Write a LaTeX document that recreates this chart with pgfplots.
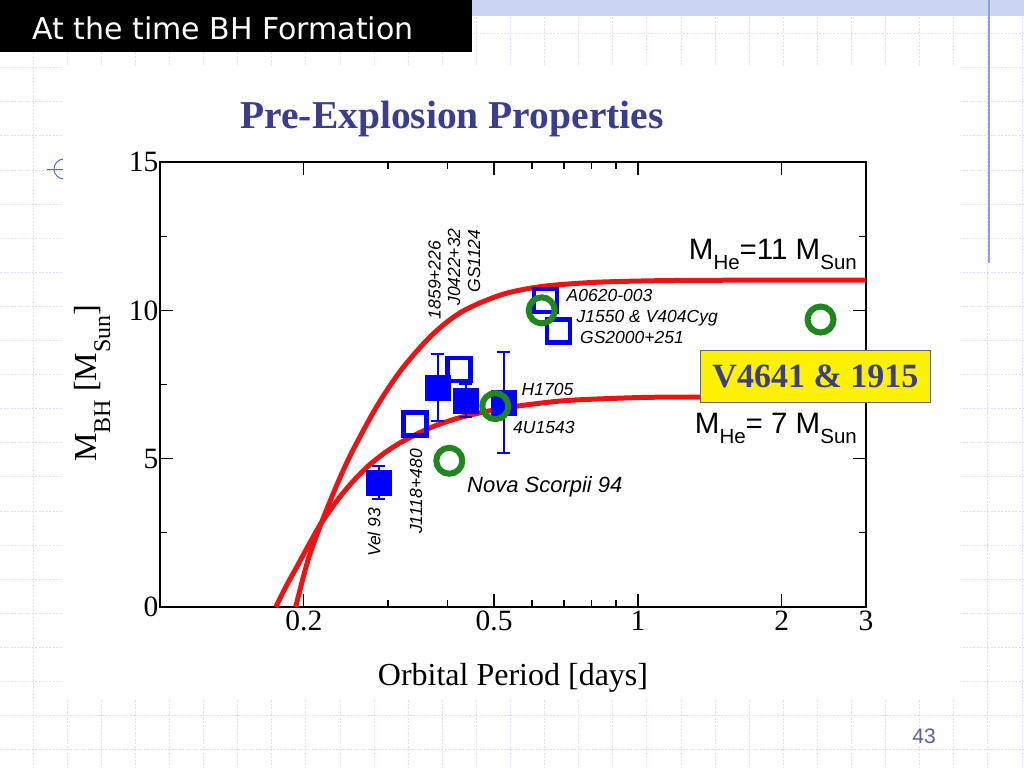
\documentclass[border=0pt]{standalone}
\usepackage{fontspec}
\setmainfont{Liberation Serif}
\newfontfamily\hv{Liberation Sans}
\newfontfamily\tah{DejaVu Sans}
\usepackage{pgfplots}
\pgfplotsset{compat=1.18}

\definecolor{slideblue}{RGB}{58,62,140}
\definecolor{gridcol}{RGB}{220,224,244}
\definecolor{bandcol}{RGB}{202,214,242}
\definecolor{edgeblue}{RGB}{140,160,225}
\definecolor{markblue}{RGB}{90,105,200}
\definecolor{ringgreen}{RGB}{30,135,30}
\definecolor{curvered}{RGB}{235,20,20}
\definecolor{pagegray}{RGB}{90,95,150}

% subscripts used in the labels (they sit well below the baseline)
\newcommand{\hsub}[1]{\raisebox{-10.5pt}{\fontsize{20.5}{20.5}\selectfont #1}}
\newcommand{\tsub}[1]{\raisebox{-14pt}{\fontsize{24}{24}\selectfont #1}}

\begin{document}
\begin{tikzpicture}
\begin{scope}[x=1pt,y=-1pt]
\path[use as bounding box] (0,0) rectangle (1024,768);

% slide background
\foreach \k in {0,...,29}
  \draw[gridcol, line width=0.8pt, dash pattern=on 2pt off 1.5pt] ({33+34.1*\k},0) -- ({33+34.1*\k},768);
\foreach \k in {0,...,22}
  \draw[gridcol, line width=0.8pt, dash pattern=on 2pt off 1.5pt] (0,{33.5+34.1*\k}) -- (1024,{33.5+34.1*\k});
\draw[markblue, line width=1pt] (64,169) circle[radius=10pt];
\draw[markblue, line width=1pt] (47,169) -- (64,169);
\fill[white] (63,65) rectangle (960,700);
\fill[bandcol] (472,0) rectangle (1024,16);
\draw[edgeblue, line width=1.5pt] (989,0) -- (989,263);
\fill[black] (0,0) rectangle (472,52);
\node[anchor=base west, inner sep=0, text=white, font=\tah\fontsize{30}{30}\selectfont] at (32,40) {At the time BH Formation};
\node[anchor=base, inner sep=0, text=slideblue, font=\bfseries\fontsize{39.5}{39.5}\selectfont] at (452,128) {Pre-Explosion Properties};
\node[anchor=base, inner sep=0, text=pagegray, font=\hv\fontsize{21}{21}\selectfont] at (924,743) {43};
\end{scope}

\begin{axis}[
    at={(160pt,-607pt)}, anchor=south west,
    scale only axis, width=706pt, height=445pt,
    xmode=log, xmin=0.1, xmax=3,
    ymin=0, ymax=15,
    xtick={0.2,0.5,1,2,3}, xticklabels={0.2,0.5,1,2,3},
    minor xtick={0.3,0.4,0.6,0.7,0.8,0.9},
    ytick={0,5,10,15}, yticklabels={0,5,10,15},
    minor ytick={2.5,7.5,12.5},
    xtick pos=both, ytick pos=both,
    tick align=inside,
    major tick length=13pt, minor tick length=7pt,
    every tick/.style={black, line width=1.2pt},
    axis line style={line width=1.3pt},
    tick label style={font=\fontsize{29.5}{29.5}\selectfont},
    yticklabel style={xshift=2pt},
    xlabel={Orbital Period [days]},
    ylabel={M\tsub{BH} [M\tsub{Sun}]},
    every axis x label/.style={at={(axis description cs:0.5,-0.1753)}, anchor=base, font=\fontsize{32}{32}\selectfont},
    every axis y label/.style={at={(axis description cs:-0.0906,0.503)}, anchor=base, rotate=90, font=\fontsize{32}{32}\selectfont},
]

% helium star mass tracks
\addplot[curvered, line width=5pt, smooth, tension=0.5] coordinates {
    (0.19226,0) (0.20364,1.537) (0.21675,2.764) (0.23519,4.166) (0.25274,5.255)
    (0.28495,6.792) (0.32122,8.036) (0.37098,9.172) (0.42844,9.957) (0.51894,10.530)
    (0.62855,10.803) (0.79906,10.938) (1.0160,10.989) (1.3548,11.012) (3,11.022)
};
\addplot[curvered, line width=5pt, smooth, tension=0.5] coordinates {
    (0.17470,0) (0.18327,0.674) (0.19226,1.281) (0.20364,2.022) (0.21675,2.79)
    (0.23519,3.607) (0.25274,4.213) (0.27415,4.787) (0.29895,5.258) (0.32586,5.629)
    (0.37098,6.067) (0.42844,6.404) (0.51894,6.691) (0.62855,6.876) (0.73686,6.977)
    (1.0160,7.062) (1.3548,7.079) (3,7.095)
};

% filled squares with error bars
\addplot[only marks, blue, mark=square*, mark size=12.5pt,
    error bars/.cd, y dir=both, y explicit,
    error bar style={line width=2pt, blue},
    error mark options={rotate=90, line width=2pt, mark size=6.5pt, blue}] coordinates {
    (0.287,4.20) +- (0,0.56)
    (0.381,7.40) +- (0,1.12)
    (0.436,6.96) +- (0,0.55)
    (0.524,6.89) +- (0,1.70)
};

% open squares
\addplot[only marks, blue, mark=square, mark size=11.5pt, mark options={line width=4.5pt}] coordinates {
    (0.342,6.17) (0.422,8.00) (0.641,10.33) (0.682,9.30)
};

% open circles
\addplot[only marks, ringgreen, mark=o, mark size=13pt, mark options={line width=6pt}] coordinates {
    (0.403,4.93) (0.503,6.77) (0.629,10.00) (2.41,9.69)
};
\end{axis}

\begin{scope}[x=1pt,y=-1pt]
% source names
\begin{scope}[every node/.style={inner sep=0, font=\hv\itshape\fontsize{17.5}{17.5}\selectfont}]
\node[rotate=90] at (434.5,280) {1859+226};
\node[rotate=90] at (454,267) {J0422+32};
\node[rotate=90] at (474,261) {GS1124};
\node[rotate=90] at (374,532.5) {Vel 93};
\node[rotate=90] at (416,491.5) {J1118+480};
\node[anchor=base west] at (566.5,301.5) {A0620-003};
\node[anchor=base west] at (576.5,322) {J1550 \& V404Cyg};
\node[anchor=base west] at (580,343) {GS2000+251};
\node[anchor=base west] at (521.5,395) {H1705};
\node[anchor=base west] at (513,433) {4U1543};
\node[anchor=base west, font=\hv\itshape\fontsize{22}{22}\selectfont] at (467,492) {Nova Scorpii 94};
\end{scope}

\node[anchor=base east, inner sep=0, font=\hv\fontsize{29.5}{29.5}\selectfont] at (857,259) {M\hsub{He}=11 M\hsub{Sun}};
\node[anchor=base east, inner sep=0, font=\hv\fontsize{29.5}{29.5}\selectfont] at (857,433) {M\hsub{He}= 7 M\hsub{Sun}};

\node[fill=yellow, draw=black!60, line width=0.8pt, anchor=north west, minimum width=230pt, minimum height=52pt, inner sep=0,
      text=slideblue, font=\bfseries\fontsize{34}{34}\selectfont] at (700,350) {V4641 \& 1915};
\end{scope}
\end{tikzpicture}
\end{document}
